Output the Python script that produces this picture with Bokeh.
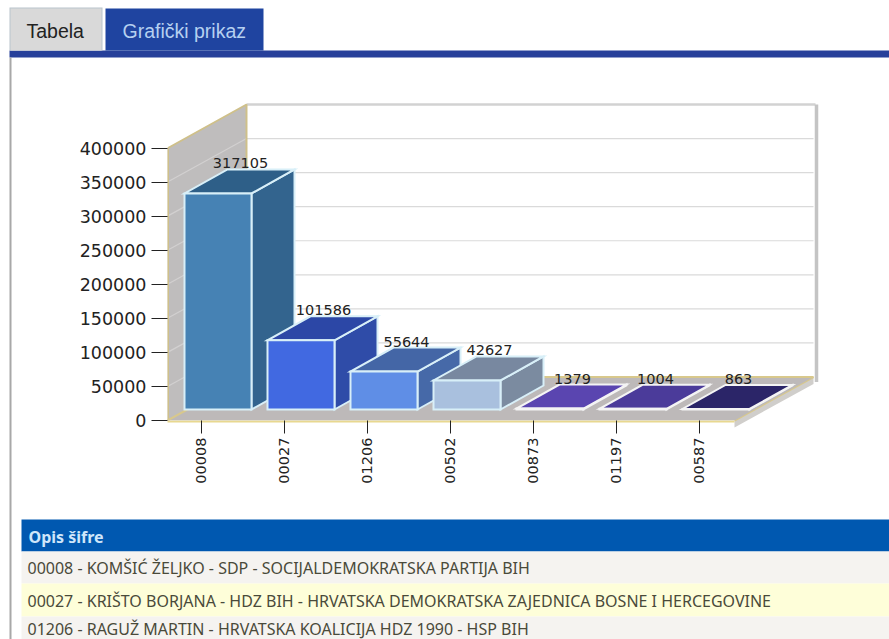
from math import pi
from bokeh.embed import file_html
from bokeh.resources import INLINE
from bokeh.plotting import figure
from bokeh.models import ColumnDataSource, FixedTicker, Range1d
from bokeh.core.properties import value

codes = ["00008", "00027", "01206", "00502", "00873", "01197", "00587"]
votes = [317105, 101586, 55644, 42627, 1379, 1004, 863]
y_ticks = [0, 50000, 100000, 150000, 200000, 250000, 300000, 350000, 400000]
front_colors = ["#4682b4", "#4169e1", "#5f8ee6", "#a9c0de", "#5a45b0", "#4b3b9a", "#2b2568"]
side_colors = ["#33648e", "#2f4ca8", "#4669a8", "#7b8ba0", "#5a45b0", "#4b3b9a", "#2b2568"]
top_colors = ["#2e5f88", "#2c47a6", "#4466a6", "#7888a0", "#5a45b0", "#4b3b9a", "#2b2568"]
edge_colors = ["#d8eff8"] * 4 + ["#f4f4f4"] * 3
table_header = "Opis šifre"
table_rows = [
    "00008 - KOMŠIĆ ŽELJKO - SDP - SOCIJALDEMOKRATSKA PARTIJA BIH",
    "00027 - KRIŠTO BORJANA - HDZ BIH - HRVATSKA DEMOKRATSKA ZAJEDNICA BOSNE I HERCEGOVINE",
    "01206 - RAGUŽ MARTIN - HRVATSKA KOALICIJA HDZ 1990 - HSP BIH",
]

W, H = 889, 639
LEFT, BASE = 167, 420          # page position of the axes' origin
STEP = 83                      # pixels between categories
FIRST = 200.5                  # page x of the first category
PER_PX = 400000 / 272.5        # votes per vertical pixel
DEPTH_X, DEPTH_Y = 43, 24      # oblique depth of a bar
WALL_X, WALL_Y = 79, 43.5      # oblique depth of the chart box
BAR_L, BAR_R = -16.5, 50.5     # bar front relative to its tick
LIFT = 11                      # bar front stands this far above the box edge


def px(x):
    return (x - FIRST) / STEP


def py(y):
    return (BASE - y) * PER_PX


def dx(d):
    return d / STEP


def dy(d):
    return d * PER_PX


# Page layer: tabs, table and the parts of the chart box below the axis line
page = figure(width=W, height=H, output_backend="svg", toolbar_location=None,
              x_range=Range1d(px(0), px(W)), y_range=Range1d(py(H), py(0)),
              x_axis_location=None, y_axis_location=None,
              min_border=0, outline_line_color=None,
              background_fill_color="white", border_fill_color="white")
page.grid.visible = False


def rect(x1, y1, x2, y2, color):
    page.quad(left=[px(x1)], right=[px(x2)], top=[py(y1)], bottom=[py(y2)],
              fill_color=color, line_color=None)


def label(x, y, s, color, font, size, weight="normal"):
    page.text([px(x)], [py(y)], text=[s], text_color=color, text_font=value(font),
              text_font_size=size, text_font_style=weight,
              text_baseline="middle", text_align="left")


rect(9, 50, W, 57, "#27409a")
rect(9, 7, 102, 50, "#b9c4cc")
rect(10, 8, 101, 50, "#d9d9d9")
rect(105, 8, 263, 50, "#1f44a0")
label(26, 30, "Tabela", "#222222", "Liberation Sans", "19.5px")
label(122, 30, "Grafički prikaz", "#b5d0f0", "Liberation Sans", "19.5px")
rect(9, 57, 11, H, "#a8a8a8")

rect(21, 519, W, 551, "#0058b0")
rect(21, 551, W, 583, "#f5f3f0")
rect(21, 583, W, 616, "#fefed9")
rect(21, 616, W, H, "#f5f3f0")
label(28, 536, table_header, "#cfe6fa", "Noto Sans", "16px", "bold")
for row_y, row in zip([567, 600, 628], table_rows):
    label(27, row_y, row, "#4a4a3a", "Noto Sans", "16px")

x0 = px(LEFT)
x_back = x0 + dx(WALL_X)
x_end = px(813)
x_front_end = x_end - dx(WALL_X)
page.patch([x_front_end, x_end, x_end, x_front_end],
           [0, dy(WALL_Y), dy(WALL_Y - 7), -dy(7)],
           fill_color="#d0cecb", line_color=None)
page.line([x_front_end, x_end], [0, dy(WALL_Y)], line_color="#d8c88c", line_width=2)
page.line([x0, x_front_end], [-dy(1)] * 2, line_color="#e8d890", line_width=2)

# Chart layer with the real axes, laid over the page layer
p = figure(width=W, height=H, output_backend="svg", toolbar_location=None,
           x_range=Range1d(px(LEFT), px(W)), y_range=Range1d(py(BASE), py(0)),
           min_border_left=LEFT, min_border_right=0, min_border_top=0,
           min_border_bottom=H - BASE, outline_line_color=None,
           background_fill_color=None, border_fill_color=None,
           styles={"position": "absolute", "top": "0px", "left": "0px"})
p.grid.visible = False

yax, xax = p.yaxis[0], p.xaxis[0]
yax.ticker = FixedTicker(ticks=y_ticks)
yax.formatter.use_scientific = False
yax.major_label_text_font = "DejaVu Sans"
yax.major_label_text_font_size = "17.5px"
yax.major_label_text_color = "#222222"
yax.major_tick_in = 0
yax.major_tick_out = 16
yax.major_tick_line_color = "#222222"
yax.minor_tick_line_color = None
yax.axis_line_color = None
yax.major_label_standoff = 5

xax.ticker = FixedTicker(ticks=list(range(len(codes))))
xax.major_label_overrides = {i: c for i, c in enumerate(codes)}
xax.major_label_orientation = pi / 2
xax.major_label_text_font = "DejaVu Sans"
xax.major_label_text_font_size = "14.5px"
xax.major_label_text_color = "#222222"
xax.major_tick_in = 0
xax.major_tick_out = 13
xax.major_tick_line_color = "#222222"
xax.minor_tick_line_color = None
xax.axis_line_color = None
xax.major_label_standoff = 4

# Chart box: back wall, left wall, floor
top_val = y_ticks[-1]
p.multi_line([[x_back, x_end] for _ in y_ticks[1:]],
             [[t + dy(WALL_Y)] * 2 for t in y_ticks[1:]],
             line_color="#dadada", line_width=1.2)
p.line([x_back, x_end + dx(2)], [top_val + dy(WALL_Y)] * 2, line_color="#d2d2d2", line_width=2.5)
p.line([x_end + dx(3)] * 2, [top_val + dy(WALL_Y), dy(WALL_Y - 5)],
       line_color="#c4c4c4", line_width=3.5)
p.patch([x0, x_back, x_back, x0], [0, dy(WALL_Y), top_val + dy(WALL_Y), top_val],
        fill_color="#bfbdbd", line_color=None)
p.multi_line([[x0, x_back] for _ in y_ticks[1:-1]],
             [[t, t + dy(WALL_Y)] for t in y_ticks[1:-1]],
             line_color="#d2d0d0", line_width=1.2)
p.line([x0 + dx(0.5)] * 2 + [x_back, x_back],
       [0, top_val, top_val + dy(WALL_Y), dy(WALL_Y)],
       line_color="#cfc08a", line_width=2)
p.patch([x0, x_back, x_end, x_front_end], [0, dy(WALL_Y), dy(WALL_Y), 0],
        fill_color="#bdb9b9", line_color=None)
p.line([x_back, x_end], [dy(WALL_Y)] * 2, line_color="#d8c88c", line_width=2)
p.line([x0, x_back], [0, dy(WALL_Y)], line_color="#d8c88c", line_width=2)

# Bars, drawn left to right so each front covers its neighbour's side
for i, v in enumerate(votes):
    l, r = i + dx(BAR_L), i + dx(BAR_R)
    b, t = dy(LIFT), dy(LIFT) + v
    ox, oy = dx(DEPTH_X), dy(DEPTH_Y)
    edge = dict(line_color=edge_colors[i], line_width=2, line_join="miter")
    p.patch([r, r + ox, r + ox, r], [b, b + oy, t + oy, t], fill_color=side_colors[i], **edge)
    p.patch([l, r, r + ox, l + ox], [t, t, t + oy, t + oy], fill_color=top_colors[i], **edge)
    p.patch([l, r, r, l], [b, b, t, t], fill_color=front_colors[i], **edge)

# Value labels over the back edge of each bar
labels = ColumnDataSource(dict(
    x=[i + dx((BAR_L + BAR_R + DEPTH_X) / 2 + 1) for i in range(len(votes))],
    y=[v + dy(LIFT + DEPTH_Y + 6) for v in votes],
    text=[str(v) for v in votes],
))
p.text("x", "y", "text", source=labels, text_align="center", text_baseline="alphabetic",
       text_font=value("DejaVu Sans"), text_font_size="14.5px", text_color="#222222")

open("out.html", "w").write(file_html([page, p], INLINE))
